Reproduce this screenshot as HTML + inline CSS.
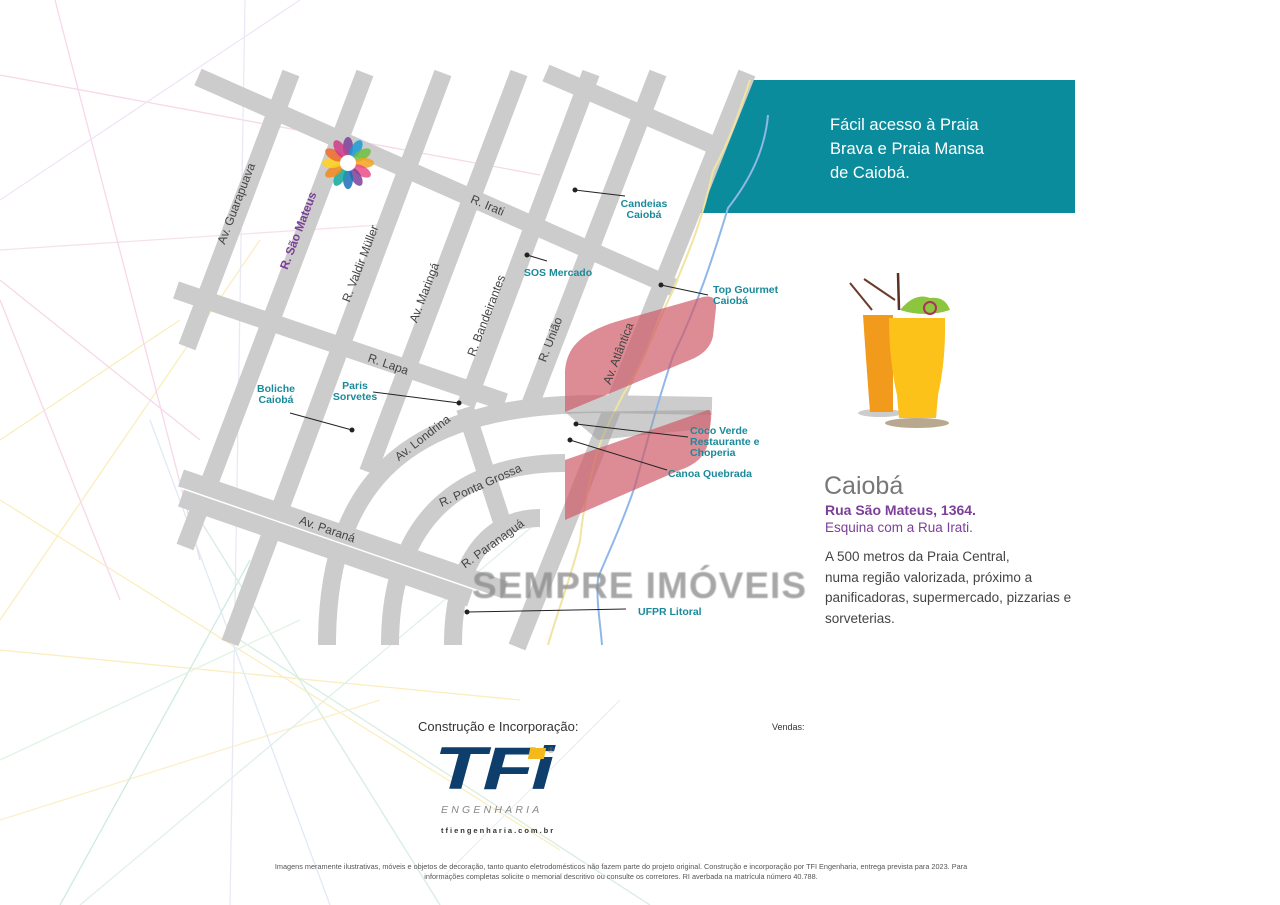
<!DOCTYPE html>
<html><head><meta charset="utf-8"><style>
html,body{margin:0;padding:0;background:#fff;}
body{width:1280px;height:905px;overflow:hidden;position:relative;font-family:"Liberation Sans",sans-serif;}
svg{position:absolute;left:0;top:0;}
.t{position:absolute;white-space:nowrap;}
</style></head><body>
<svg width="1280" height="905" viewBox="0 0 1280 905">
<g fill="none" stroke-width="1.3" opacity="0.55">
<line x1="0" y1="75" x2="540" y2="175" stroke="#f2b8d8"/>
<line x1="0" y1="250" x2="380" y2="225" stroke="#f2c8e0"/>
<line x1="0" y1="440" x2="180" y2="320" stroke="#f8e08a"/>
<line x1="0" y1="620" x2="260" y2="240" stroke="#f8e08a"/>
<line x1="0" y1="500" x2="560" y2="850" stroke="#f8e08a"/>
<line x1="0" y1="650" x2="520" y2="700" stroke="#f8e08a"/>
<line x1="0" y1="820" x2="380" y2="700" stroke="#fbe3a0"/>
<line x1="55" y1="0" x2="200" y2="560" stroke="#f2b8d8"/>
<line x1="0" y1="300" x2="120" y2="600" stroke="#f2b8d8"/>
<line x1="0" y1="280" x2="200" y2="440" stroke="#f2b8d8"/>
<line x1="245" y1="0" x2="230" y2="905" stroke="#d8d8f0"/>
<line x1="150" y1="420" x2="330" y2="905" stroke="#c8d8f0"/>
<line x1="200" y1="520" x2="440" y2="905" stroke="#b8e0c8"/>
<line x1="60" y1="905" x2="250" y2="560" stroke="#a8dcc8"/>
<line x1="240" y1="640" x2="650" y2="905" stroke="#b8e0c8"/>
<line x1="80" y1="905" x2="540" y2="520" stroke="#c8e4d8"/>
<line x1="0" y1="760" x2="300" y2="620" stroke="#c8ecd0"/>
<line x1="300" y1="0" x2="0" y2="200" stroke="#e8d0f0"/>
<line x1="440" y1="880" x2="620" y2="700" stroke="#d8e4f0"/>
</g>
<polygon points="750,80 1075,80 1075,213 693,213" fill="#0b8c9c"/>
<g stroke="#cccccc" stroke-width="18" fill="none">
<line x1="291" y1="73" x2="187" y2="347"/>
<line x1="365" y1="73" x2="185" y2="547"/>
<line x1="443" y1="73" x2="230" y2="643"/>
<line x1="519" y1="73" x2="368" y2="472"/>
<line x1="591" y1="73" x2="466" y2="405"/>
<line x1="658" y1="73" x2="530" y2="405"/>
<line x1="747" y1="73" x2="517" y2="647"/>
<line x1="198" y1="77" x2="675" y2="288"/>
<line x1="546" y1="73" x2="725" y2="150"/>
<line x1="176" y1="290" x2="505" y2="402"/>
<line x1="181" y1="478" x2="505" y2="590"/>
<line x1="181" y1="498" x2="470" y2="598"/>
<path d="M327,645 C327,470 420,404 600,404 L712,406"/>
<path d="M390,645 C390,520 460,463 565,463"/>
<path d="M453,645 C453,560 490,518 540,518"/>
<line x1="465" y1="408" x2="504" y2="528"/>
</g>
<line x1="181" y1="488" x2="505" y2="600" stroke="#fff" stroke-width="1.5"/>
<path d="M750,80 C740,110 730,140 713,171 C700,230 685,260 673,290 C650,340 640,370 624,393 C610,420 600,440 595,460 C585,500 582,520 580,541 C570,580 558,610 548,645" fill="none" stroke="#f0e4a0" stroke-width="2"/>
<path d="M768,115 C765,150 750,180 728,208 C715,250 700,300 673,356 C655,410 645,450 635,486 C620,530 605,560 598,578 C596,600 600,620 602,645" fill="none" stroke="#8fb8e8" stroke-width="2"/>
<path d="M565,412 L565,375 C565,345 585,332 615,322 L703,297 Q717,294 716,308 L713,336 Q710,352 690,360 Z" fill="#cf5a66" opacity="0.7"/>
<path d="M565,412 L710,410 L710,428 L598,440 Z" fill="#999" opacity="0.5"/>
<path d="M565,460 L708,410 Q712,410 711,420 L708,443 Q704,462 680,470 L565,520 Z" fill="#cf5a66" opacity="0.7"/>
<g stroke="#222" stroke-width="1" fill="#222">
<line x1="575" y1="190" x2="625" y2="196"/><circle cx="575" cy="190" r="2"/>
<line x1="527" y1="255" x2="547" y2="261"/><circle cx="527" cy="255" r="2"/>
<line x1="661" y1="285" x2="708" y2="295"/><circle cx="661" cy="285" r="2"/>
<line x1="459" y1="403" x2="373" y2="392"/><circle cx="459" cy="403" r="2"/>
<line x1="352" y1="430" x2="290" y2="413"/><circle cx="352" cy="430" r="2"/>
<line x1="576" y1="424" x2="688" y2="437"/><circle cx="576" cy="424" r="2"/>
<line x1="570" y1="440" x2="667" y2="470"/><circle cx="570" cy="440" r="2"/>
<line x1="467" y1="612" x2="626" y2="609"/><circle cx="467" cy="612" r="2"/>
</g>
<g transform="translate(348,163)">
<ellipse cx="0" cy="-16" rx="5" ry="10" fill="#7b3f98" opacity=".85"/>
<ellipse cx="0" cy="-16" rx="5" ry="10" fill="#1a9ad6" opacity=".85" transform="rotate(30)"/>
<ellipse cx="0" cy="-16" rx="5" ry="10" fill="#6cbf3f" opacity=".85" transform="rotate(60)"/>
<ellipse cx="0" cy="-16" rx="5" ry="10" fill="#f6a21c" opacity=".85" transform="rotate(90)"/>
<ellipse cx="0" cy="-16" rx="5" ry="10" fill="#e94e8a" opacity=".85" transform="rotate(120)"/>
<ellipse cx="0" cy="-16" rx="5" ry="10" fill="#7b3f98" opacity=".85" transform="rotate(150)"/>
<ellipse cx="0" cy="-16" rx="5" ry="10" fill="#1a6fb8" opacity=".85" transform="rotate(180)"/>
<ellipse cx="0" cy="-16" rx="5" ry="10" fill="#12a59a" opacity=".85" transform="rotate(210)"/>
<ellipse cx="0" cy="-16" rx="5" ry="10" fill="#f08a1c" opacity=".85" transform="rotate(240)"/>
<ellipse cx="0" cy="-16" rx="5" ry="10" fill="#ffd21c" opacity=".85" transform="rotate(270)"/>
<ellipse cx="0" cy="-16" rx="5" ry="10" fill="#f06a2c" opacity=".85" transform="rotate(300)"/>
<ellipse cx="0" cy="-16" rx="5" ry="10" fill="#d03a8a" opacity=".85" transform="rotate(330)"/>
<circle r="8" fill="#fff"/>
</g>
<g font-family="Liberation Sans, sans-serif" font-size="12" fill="#444" text-anchor="middle">
<text transform="translate(240,205) rotate(-69)">Av. Guarapuava</text>
<text transform="translate(302,232) rotate(-69)" fill="#7b3f98" font-weight="bold">R. São Mateus</text>
<text transform="translate(364,265) rotate(-69)">R. Valdir Müller</text>
<text transform="translate(428,294) rotate(-69)">Av. Maringá</text>
<text transform="translate(490,317) rotate(-69)">R. Bandeirantes</text>
<text transform="translate(554,341) rotate(-69)">R. União</text>
<text transform="translate(622,355) rotate(-69)">Av. Atlântica</text>
<text transform="translate(486,209) rotate(23)">R. Irati</text>
<text transform="translate(387,368) rotate(19)">R. Lapa</text>
<text transform="translate(326,533) rotate(19)">Av. Paraná</text>
<text transform="translate(425,441) rotate(-38)">Av. Londrina</text>
<text transform="translate(482,489) rotate(-24)">R. Ponta Grossa</text>
<text transform="translate(495,547) rotate(-36)">R. Paranaguá</text>
</g>
<g font-family="Liberation Sans, sans-serif" font-size="10.5" fill="#1a8a9a" font-weight="bold">
<text x="644" y="207" text-anchor="middle">Candeias</text>
<text x="644" y="218" text-anchor="middle">Caiobá</text>
<text x="558" y="276" text-anchor="middle">SOS Mercado</text>
<text x="713" y="293">Top Gourmet</text>
<text x="713" y="304">Caiobá</text>
<text x="276" y="392" text-anchor="middle">Boliche</text>
<text x="276" y="403" text-anchor="middle">Caiobá</text>
<text x="355" y="389" text-anchor="middle">Paris</text>
<text x="355" y="400" text-anchor="middle">Sorvetes</text>
<text x="690" y="434">Coco Verde</text>
<text x="690" y="445">Restaurante e</text>
<text x="690" y="456">Choperia</text>
<text x="668" y="477">Canoa Quebrada</text>
<text x="638" y="615">UFPR Litoral</text>
</g>
<text x="472" y="598" font-family="Liberation Sans, sans-serif" font-size="37" font-weight="bold" fill="#8a8a8a" opacity="0.75" textLength="334" style="filter:blur(0.6px)">SEMPRE IMÓVEIS</text>
<g>
<ellipse cx="880" cy="413" rx="22" ry="4" fill="#ccc"/>
<ellipse cx="917" cy="423" rx="32" ry="5" fill="#b8a890"/>
<line x1="850" y1="283" x2="872" y2="310" stroke="#6b3a2a" stroke-width="2"/>
<line x1="864" y1="279" x2="895" y2="300" stroke="#6b3a2a" stroke-width="2"/>
<line x1="898" y1="273" x2="899" y2="310" stroke="#5a3020" stroke-width="2.5"/>
<path d="M863,315 L893,315 L893,412 L870,412 Q866,360 863,315 Z" fill="#f29a1c"/>
<path d="M889,318 L945,318 Q946,360 938,395 L936,418 L899,418 L897,395 Q889,360 889,318 Z" fill="#fdc21a"/>
<path d="M900,310 Q915,292 930,298 Q945,296 950,310 Q925,318 900,310 Z" fill="#8cc63f"/>
<circle cx="930" cy="308" r="6" fill="none" stroke="#b03060" stroke-width="2"/>
</g>
</svg>
<div class="t" style="left:830px;top:113px;color:#fff;font-size:16.5px;line-height:24px;">Fácil acesso à Praia<br>Brava e Praia Mansa<br>de Caiobá.</div>
<div class="t" style="left:824px;top:472px;color:#777;font-size:25px;">Caiobá</div>
<div class="t" style="left:825px;top:502px;color:#7b3f98;font-size:14px;font-weight:bold;">Rua São Mateus, 1364.</div>
<div class="t" style="left:825px;top:520px;color:#7b3f98;font-size:13.5px;">Esquina com a Rua Irati.</div>
<div class="t" style="left:825px;top:547px;color:#444;font-size:13.5px;line-height:20.7px;">A 500 metros da Praia Central,<br>numa região valorizada, próximo a<br>panificadoras, supermercado, pizzarias e<br>sorveterias.</div>
<div class="t" style="left:418px;top:719px;color:#333;font-size:13px;">Construção e Incorporação:</div>
<div class="t" style="left:772px;top:722px;color:#333;font-size:9px;">Vendas:</div>
<div class="t" style="left:434px;top:737px;color:#0e3e6b;font-size:60px;font-weight:bold;font-style:italic;letter-spacing:-2px;line-height:64px;transform:scaleX(1.4);transform-origin:0 0;">TFi</div>
<div style="position:absolute;left:529px;top:748px;width:16px;height:11px;background:#f5b91c;transform:skewX(-12deg);"></div>
<div class="t" style="left:548px;top:746px;color:#777;font-size:8px;">®</div>
<div class="t" style="left:441px;top:804px;color:#888;font-size:10.5px;letter-spacing:3.2px;font-style:italic;">ENGENHARIA</div>
<div class="t" style="left:441px;top:826px;color:#333;font-size:7.5px;font-weight:bold;letter-spacing:2px;">tfiengenharia.com.br</div>
<div class="t" style="left:0;width:1242px;top:862px;color:#555;font-size:7.3px;line-height:10px;text-align:center;">Imagens meramente ilustrativas, móveis e objetos de decoração, tanto quanto eletrodomésticos não fazem parte do projeto original. Construção e incorporação por TFI Engenharia, entrega prevista para 2023. Para<br>informações completas solicite o memorial descritivo ou consulte os corretores. RI averbada na matrícula número 40.788.</div>
</body></html>
